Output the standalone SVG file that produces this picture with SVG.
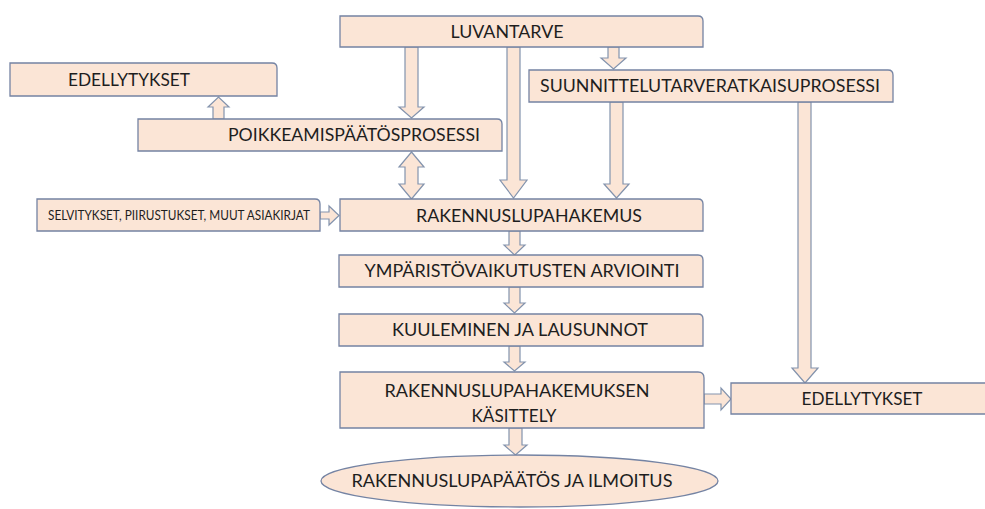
<svg xmlns="http://www.w3.org/2000/svg" width="985" height="509" viewBox="0 0 985 509">
<style>
.box{fill:#FBE5D6;stroke:#7483A3;stroke-width:1.3}
.arr{fill:#FBE5D6;stroke:#8393AD;stroke-width:1.2;stroke-linejoin:miter}
text{font-family:Lato,"Open Sans","Liberation Sans",sans-serif;font-size:17.5px;fill:#1E1E1E;text-anchor:middle}
.sm{font-size:13px}
</style>
<rect width="985" height="509" fill="#FFFFFF"/>
<g id="connectors">
<polygon class="arr" points="405,47 418,47 418,107 424,107 411.5,118 399,107 405,107"/>
<polygon class="arr" points="507,47 520,47 520,180 527,180 513.5,198 500,180 507,180"/>
<polygon class="arr" points="608,47 619,47 619,58 626,58 613.5,69 601,58 608,58"/>
<polygon class="arr" points="213,119 224,119 224,107 229,107 218.5,97 208,107 213,107"/>
<polygon class="arr" points="411.5,152 424,167 418,167 418,184 424,184 411.5,199 399,184 405,184 405,167 399,167"/>
<polygon class="arr" points="610,102 623,102 623,184 629,184 616.5,198 604,184 610,184"/>
<polygon class="arr" points="798,102 811,102 811,368 818,368 805,383 792,368 798,368"/>
<polygon class="arr" points="320,212 329,212 329,206 339,215.5 329,225 329,219 320,219"/>
<polygon class="arr" points="509,231 520,231 520,245 525,245 514.5,255 504,245 509,245"/>
<polygon class="arr" points="509,287 520,287 520,303 525,303 514.5,313 504,303 509,303"/>
<polygon class="arr" points="509,346 520,346 520,362 525,362 514.5,371 504,362 509,362"/>
<polygon class="arr" points="704,394 721,394 721,388 731,399 721,410 721,404 704,404"/>
<polygon class="arr" points="509,428 522,428 522,445 527,445 515.5,455 504,445 509,445"/>
</g>
<g id="luvantarve">
<path class="box" d="M340,16 H698 Q703,16 703,21 V47 H340 Z"/>
<text x="507" y="38" textLength="113" lengthAdjust="spacingAndGlyphs">LUVANTARVE</text>
</g>
<g id="edellytykset-top">
<path class="box" d="M10,63 H272 Q277,63 277,68 V96 H10 Z"/>
<text x="129" y="86" textLength="122" lengthAdjust="spacingAndGlyphs">EDELLYTYKSET</text>
</g>
<g id="poikkeamis">
<path class="box" d="M138,119 H497 Q502,119 502,124 V151 H138 Z"/>
<text x="354" y="141" textLength="252" lengthAdjust="spacingAndGlyphs">POIKKEAMISPÄÄTÖSPROSESSI</text>
</g>
<g id="suunnittelu">
<path class="box" d="M529,70 H888 Q893,70 893,75 V102 H529 Z"/>
<text x="710" y="92" textLength="340" lengthAdjust="spacingAndGlyphs">SUUNNITTELUTARVERATKAISUPROSESSI</text>
</g>
<g id="selvitykset">
<path class="box" d="M37,199 H315 Q320,199 320,204 V231 H37 Z"/>
<text class="sm" x="179" y="220" textLength="262" lengthAdjust="spacingAndGlyphs">SELVITYKSET, PIIRUSTUKSET, MUUT ASIAKIRJAT</text>
</g>
<g id="rakennuslupahakemus">
<path class="box" d="M340,199 H698 Q703,199 703,204 V231 H340 Z"/>
<text x="529" y="221.5" textLength="226" lengthAdjust="spacingAndGlyphs">RAKENNUSLUPAHAKEMUS</text>
</g>
<g id="ymparisto">
<path class="box" d="M339,255 H698 Q703,255 703,260 V287 H339 Z"/>
<text x="522" y="277" textLength="315" lengthAdjust="spacingAndGlyphs">YMPÄRISTÖVAIKUTUSTEN ARVIOINTI</text>
</g>
<g id="kuuleminen">
<path class="box" d="M339,314 H698 Q703,314 703,319 V346 H339 Z"/>
<text x="520" y="336" textLength="256" lengthAdjust="spacingAndGlyphs">KUULEMINEN JA LAUSUNNOT</text>
</g>
<g id="kasittely">
<path class="box" d="M340,372 H698 Q704,372 704,378 V428 H340 Z"/>
<text x="517" y="397" textLength="265" lengthAdjust="spacingAndGlyphs">RAKENNUSLUPAHAKEMUKSEN</text>
<text x="514" y="422" textLength="85" lengthAdjust="spacingAndGlyphs">KÄSITTELY</text>
</g>
<g id="edellytykset-bottom">
<path class="box" d="M731,383 H995 V414 H731 Z"/>
<text x="862" y="405" textLength="121" lengthAdjust="spacingAndGlyphs">EDELLYTYKSET</text>
</g>
<g id="paatos">
<ellipse class="box" cx="519.5" cy="481" rx="198.5" ry="26"/>
<text x="512" y="487" textLength="321" lengthAdjust="spacingAndGlyphs">RAKENNUSLUPAPÄÄTÖS JA ILMOITUS</text>
</g>
</svg>
